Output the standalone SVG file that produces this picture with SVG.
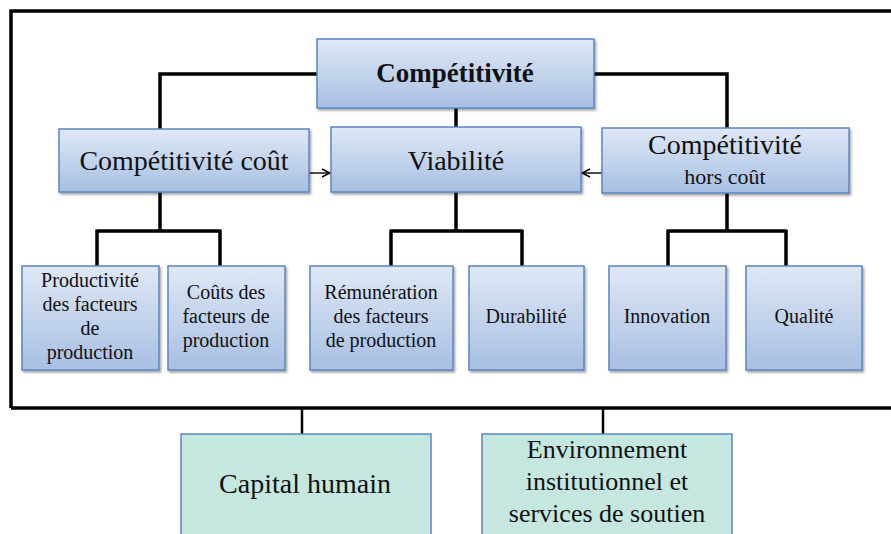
<svg xmlns="http://www.w3.org/2000/svg" width="891" height="534" viewBox="0 0 891 534">
<defs>
<linearGradient id="g" x1="0" y1="0" x2="0" y2="1">
<stop offset="0" stop-color="#dfe8f6"/>
<stop offset="1" stop-color="#a7bfe2"/>
</linearGradient>
<filter id="sh" x="-5%" y="-5%" width="115%" height="120%">
<feDropShadow dx="1.5" dy="2" stdDeviation="1.2" flood-color="#000" flood-opacity="0.35"/>
</filter>
<marker id="ah" markerWidth="10" markerHeight="10" refX="9" refY="5" orient="auto" markerUnits="userSpaceOnUse">
<path d="M1,1 L9,5 L1,9" fill="none" stroke="#000" stroke-width="1.4"/>
</marker>
<style>
.b{fill:url(#g);stroke:#5a86c0;stroke-width:1.5;filter:url(#sh)}
.t{fill:#c6e7df;stroke:#5a86c0;stroke-width:1.5}
.c{fill:none;stroke:#000;stroke-width:3.5}
.a{fill:none;stroke:#000;stroke-width:1.4;marker-end:url(#ah)}
text{font-family:"Liberation Serif","DejaVu Serif",serif;fill:#111;text-anchor:middle}
.s{font-size:20px}
.m{font-size:28px}
.e{font-size:26px}
</style>
</defs>
<rect x="0" y="0" width="891" height="534" fill="#fff"/>
<path d="M11,408 L11,11 L893,11 M11,408 L893,408" fill="none" stroke="#000" stroke-width="3.5"/>
<g id="connectors">
<path class="c" d="M317,74 L160,74 L160,129"/>
<path class="c" d="M594,74 L727,74 L727,128"/>
<path class="c" d="M456,108 L456,127"/>
<path class="c" d="M160,192 L160,231 M97,231 L220,231 M97,229.5 L97,266 M220,229.5 L220,266"/>
<path class="c" d="M456,192 L456,231 M391,231 L522,231 M391,229.5 L391,266 M522,229.5 L522,266"/>
<path class="c" d="M727,193 L727,231 M668,231 L786,231 M668,229.5 L668,266 M786,229.5 L786,266"/>
<path class="a" d="M309,173 L330,173"/>
<path class="a" d="M602,173 L582,173"/>
<path d="M302,408 L302,434 M603,408 L603,434" fill="none" stroke="#000" stroke-width="2.5"/>
</g>
<g id="n-competitivite">
<rect class="b" x="317" y="39" width="277" height="69"/>
<text x="455" y="82" font-size="27" font-weight="bold">Compétitivité</text>
</g>
<g id="n-cout">
<rect class="b" x="59" y="129" width="250" height="63"/>
<text class="m" x="184" y="170">Compétitivité coût</text>
</g>
<g id="n-viabilite">
<rect class="b" x="331" y="127" width="250" height="65"/>
<text class="m" x="456" y="170">Viabilité</text>
</g>
<g id="n-horscout">
<rect class="b" x="602" y="128" width="247" height="65"/>
<text class="m" x="725" y="154">Compétitivité</text>
<text x="725" y="184" font-size="22">hors coût</text>
</g>
<g id="n-productivite">
<rect class="b" x="22" y="266" width="137" height="104"/>
<text class="s" x="90" y="287">Productivité</text>
<text class="s" x="90" y="311">des facteurs</text>
<text class="s" x="90" y="335">de</text>
<text class="s" x="90" y="359">production</text>
</g>
<g id="n-couts">
<rect class="b" x="168" y="266" width="117" height="104"/>
<text class="s" x="226" y="299">Coûts des</text>
<text class="s" x="226" y="323">facteurs de</text>
<text class="s" x="226" y="347">production</text>
</g>
<g id="n-remuneration">
<rect class="b" x="310" y="266" width="143" height="104"/>
<text class="s" x="381" y="299">Rémunération</text>
<text class="s" x="381" y="323">des facteurs</text>
<text class="s" x="381" y="347">de production</text>
</g>
<g id="n-durabilite">
<rect class="b" x="469" y="266" width="115" height="104"/>
<text class="s" x="526" y="323">Durabilité</text>
</g>
<g id="n-innovation">
<rect class="b" x="609" y="266" width="117" height="104"/>
<text class="s" x="667" y="323">Innovation</text>
</g>
<g id="n-qualite">
<rect class="b" x="746" y="266" width="116" height="104"/>
<text class="s" x="804" y="323">Qualité</text>
</g>
<g id="n-capital">
<rect class="t" x="181" y="434" width="250" height="106"/>
<text x="305" y="493" font-size="28">Capital humain</text>
</g>
<g id="n-environnement">
<rect class="t" x="482" y="434" width="250" height="106"/>
<text class="e" x="607" y="458">Environnement</text>
<text class="e" x="607" y="490">institutionnel et</text>
<text class="e" x="607" y="522">services de soutien</text>
</g>
</svg>
